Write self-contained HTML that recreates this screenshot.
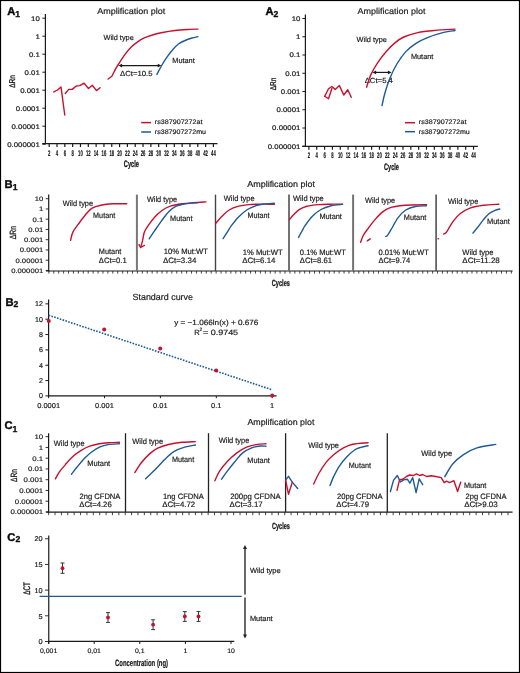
<!DOCTYPE html>
<html><head><meta charset="utf-8"><title>Figure</title>
<style>
html,body{margin:0;padding:0;background:#fff;}
body{width:520px;height:673px;overflow:hidden;}
svg{display:block;will-change:transform;}
text{font-family:"Liberation Sans",sans-serif;text-rendering:geometricPrecision;}
</style></head>
<body>
<svg width="520" height="673" viewBox="0 0 520 673">
<rect x="0.5" y="0.5" width="519" height="672" fill="none" stroke="#000" stroke-width="1.2"/>
<g fill="#1a1a1a" stroke="#1a1a1a" stroke-width="0.18">
<text transform="translate(7.3 14.8)" font-size="11.2" font-weight="bold" fill="#000" stroke-width="0.45">A</text>
<text transform="translate(15.3 16.9)" font-size="8.6" font-weight="bold" fill="#000" stroke-width="0.35">1</text>
<text transform="translate(39.8 20.6) scale(1.17 1)" font-size="6.7" text-anchor="end" stroke-width="0.2">10</text>
<text transform="translate(39.8 38.6) scale(1.17 1)" font-size="6.7" text-anchor="end" stroke-width="0.2">1</text>
<text transform="translate(39.8 56.6) scale(1.17 1)" font-size="6.7" text-anchor="end" stroke-width="0.2">0.1</text>
<text transform="translate(39.8 74.6) scale(1.17 1)" font-size="6.7" text-anchor="end" stroke-width="0.2">0.01</text>
<text transform="translate(39.8 92.6) scale(1.17 1)" font-size="6.7" text-anchor="end" stroke-width="0.2">0.001</text>
<text transform="translate(39.8 110.6) scale(1.17 1)" font-size="6.7" text-anchor="end" stroke-width="0.2">0.0001</text>
<text transform="translate(39.8 128.6) scale(1.17 1)" font-size="6.7" text-anchor="end" stroke-width="0.2">0.00001</text>
<text transform="translate(39.8 146.6) scale(1.17 1)" font-size="6.7" text-anchor="end" stroke-width="0.2">0.000001</text>
<text transform="translate(49.2 155.6) scale(0.52 1)" font-size="8.2" text-anchor="middle" font-weight="bold" stroke-width="0.2">2</text>
<text transform="translate(57.02 155.6) scale(0.52 1)" font-size="8.2" text-anchor="middle" font-weight="bold" stroke-width="0.2">4</text>
<text transform="translate(64.84 155.6) scale(0.52 1)" font-size="8.2" text-anchor="middle" font-weight="bold" stroke-width="0.2">6</text>
<text transform="translate(72.66 155.6) scale(0.52 1)" font-size="8.2" text-anchor="middle" font-weight="bold" stroke-width="0.2">8</text>
<text transform="translate(80.48 155.6) scale(0.52 1)" font-size="8.2" text-anchor="middle" font-weight="bold" stroke-width="0.2">10</text>
<text transform="translate(88.3 155.6) scale(0.52 1)" font-size="8.2" text-anchor="middle" font-weight="bold" stroke-width="0.2">12</text>
<text transform="translate(96.12 155.6) scale(0.52 1)" font-size="8.2" text-anchor="middle" font-weight="bold" stroke-width="0.2">14</text>
<text transform="translate(103.94 155.6) scale(0.52 1)" font-size="8.2" text-anchor="middle" font-weight="bold" stroke-width="0.2">16</text>
<text transform="translate(111.76 155.6) scale(0.52 1)" font-size="8.2" text-anchor="middle" font-weight="bold" stroke-width="0.2">18</text>
<text transform="translate(119.58 155.6) scale(0.52 1)" font-size="8.2" text-anchor="middle" font-weight="bold" stroke-width="0.2">20</text>
<text transform="translate(127.4 155.6) scale(0.52 1)" font-size="8.2" text-anchor="middle" font-weight="bold" stroke-width="0.2">22</text>
<text transform="translate(135.22 155.6) scale(0.52 1)" font-size="8.2" text-anchor="middle" font-weight="bold" stroke-width="0.2">24</text>
<text transform="translate(143.04 155.6) scale(0.52 1)" font-size="8.2" text-anchor="middle" font-weight="bold" stroke-width="0.2">26</text>
<text transform="translate(150.86 155.6) scale(0.52 1)" font-size="8.2" text-anchor="middle" font-weight="bold" stroke-width="0.2">28</text>
<text transform="translate(158.68 155.6) scale(0.52 1)" font-size="8.2" text-anchor="middle" font-weight="bold" stroke-width="0.2">30</text>
<text transform="translate(166.5 155.6) scale(0.52 1)" font-size="8.2" text-anchor="middle" font-weight="bold" stroke-width="0.2">32</text>
<text transform="translate(174.32 155.6) scale(0.52 1)" font-size="8.2" text-anchor="middle" font-weight="bold" stroke-width="0.2">34</text>
<text transform="translate(182.14 155.6) scale(0.52 1)" font-size="8.2" text-anchor="middle" font-weight="bold" stroke-width="0.2">36</text>
<text transform="translate(189.96 155.6) scale(0.52 1)" font-size="8.2" text-anchor="middle" font-weight="bold" stroke-width="0.2">38</text>
<text transform="translate(197.78 155.6) scale(0.52 1)" font-size="8.2" text-anchor="middle" font-weight="bold" stroke-width="0.2">40</text>
<text transform="translate(205.6 155.6) scale(0.52 1)" font-size="8.2" text-anchor="middle" font-weight="bold" stroke-width="0.2">42</text>
<text transform="translate(213.42 155.6) scale(0.52 1)" font-size="8.2" text-anchor="middle" font-weight="bold" stroke-width="0.2">44</text>
<text transform="translate(131.3 13.5)" font-size="8.5" text-anchor="middle" textLength="68" lengthAdjust="spacingAndGlyphs">Amplification plot</text>
<text transform="translate(15.3 81.5) rotate(-90) scale(0.78 1)" font-size="8.4" text-anchor="middle" stroke-width="0.3">&#916;Rn</text>
<text transform="translate(123.8 167) scale(0.6 1)" font-size="9.3" font-weight="bold" stroke-width="0.3" textLength="25.33" lengthAdjust="spacingAndGlyphs">Cycle</text>
<text transform="translate(103.5 39.8)" font-size="7.4" textLength="30.3" lengthAdjust="spacingAndGlyphs">Wild type</text>
<text transform="translate(172.3 63.2)" font-size="7.4" textLength="22.4" lengthAdjust="spacingAndGlyphs">Mutant</text>
<text transform="translate(120 76.3)" font-size="7.4" textLength="32.5" lengthAdjust="spacingAndGlyphs">&#916;Ct=10.5</text>
<text transform="translate(154.8 124.2)" font-size="6.6" textLength="47.7" lengthAdjust="spacingAndGlyphs">rs387907272at</text>
<text transform="translate(154.8 134)" font-size="6.6" textLength="51.2" lengthAdjust="spacingAndGlyphs">rs387907272mu</text>
<text transform="translate(265.5 15)" font-size="11.2" font-weight="bold" fill="#000" stroke-width="0.45">A</text>
<text transform="translate(273.4 17)" font-size="8.6" font-weight="bold" fill="#000" stroke-width="0.35">2</text>
<text transform="translate(300.4 20.9) scale(1.17 1)" font-size="6.7" text-anchor="end" stroke-width="0.2">10</text>
<text transform="translate(300.4 39.15) scale(1.17 1)" font-size="6.7" text-anchor="end" stroke-width="0.2">1</text>
<text transform="translate(300.4 57.4) scale(1.17 1)" font-size="6.7" text-anchor="end" stroke-width="0.2">0.1</text>
<text transform="translate(300.4 75.65) scale(1.17 1)" font-size="6.7" text-anchor="end" stroke-width="0.2">0.01</text>
<text transform="translate(300.4 93.9) scale(1.17 1)" font-size="6.7" text-anchor="end" stroke-width="0.2">0.001</text>
<text transform="translate(300.4 112.15) scale(1.17 1)" font-size="6.7" text-anchor="end" stroke-width="0.2">0.0001</text>
<text transform="translate(300.4 130.4) scale(1.17 1)" font-size="6.7" text-anchor="end" stroke-width="0.2">0.00001</text>
<text transform="translate(300.4 148.65) scale(1.17 1)" font-size="6.7" text-anchor="end" stroke-width="0.2">0.000001</text>
<text transform="translate(308.9 158.2) scale(0.52 1)" font-size="8.2" text-anchor="middle" font-weight="bold" stroke-width="0.2">2</text>
<text transform="translate(316.74 158.2) scale(0.52 1)" font-size="8.2" text-anchor="middle" font-weight="bold" stroke-width="0.2">4</text>
<text transform="translate(324.58 158.2) scale(0.52 1)" font-size="8.2" text-anchor="middle" font-weight="bold" stroke-width="0.2">6</text>
<text transform="translate(332.42 158.2) scale(0.52 1)" font-size="8.2" text-anchor="middle" font-weight="bold" stroke-width="0.2">8</text>
<text transform="translate(340.26 158.2) scale(0.52 1)" font-size="8.2" text-anchor="middle" font-weight="bold" stroke-width="0.2">10</text>
<text transform="translate(348.1 158.2) scale(0.52 1)" font-size="8.2" text-anchor="middle" font-weight="bold" stroke-width="0.2">12</text>
<text transform="translate(355.94 158.2) scale(0.52 1)" font-size="8.2" text-anchor="middle" font-weight="bold" stroke-width="0.2">14</text>
<text transform="translate(363.78 158.2) scale(0.52 1)" font-size="8.2" text-anchor="middle" font-weight="bold" stroke-width="0.2">16</text>
<text transform="translate(371.62 158.2) scale(0.52 1)" font-size="8.2" text-anchor="middle" font-weight="bold" stroke-width="0.2">18</text>
<text transform="translate(379.46 158.2) scale(0.52 1)" font-size="8.2" text-anchor="middle" font-weight="bold" stroke-width="0.2">20</text>
<text transform="translate(387.3 158.2) scale(0.52 1)" font-size="8.2" text-anchor="middle" font-weight="bold" stroke-width="0.2">22</text>
<text transform="translate(395.14 158.2) scale(0.52 1)" font-size="8.2" text-anchor="middle" font-weight="bold" stroke-width="0.2">24</text>
<text transform="translate(402.98 158.2) scale(0.52 1)" font-size="8.2" text-anchor="middle" font-weight="bold" stroke-width="0.2">26</text>
<text transform="translate(410.82 158.2) scale(0.52 1)" font-size="8.2" text-anchor="middle" font-weight="bold" stroke-width="0.2">28</text>
<text transform="translate(418.66 158.2) scale(0.52 1)" font-size="8.2" text-anchor="middle" font-weight="bold" stroke-width="0.2">30</text>
<text transform="translate(426.5 158.2) scale(0.52 1)" font-size="8.2" text-anchor="middle" font-weight="bold" stroke-width="0.2">32</text>
<text transform="translate(434.34 158.2) scale(0.52 1)" font-size="8.2" text-anchor="middle" font-weight="bold" stroke-width="0.2">34</text>
<text transform="translate(442.18 158.2) scale(0.52 1)" font-size="8.2" text-anchor="middle" font-weight="bold" stroke-width="0.2">36</text>
<text transform="translate(450.02 158.2) scale(0.52 1)" font-size="8.2" text-anchor="middle" font-weight="bold" stroke-width="0.2">38</text>
<text transform="translate(457.86 158.2) scale(0.52 1)" font-size="8.2" text-anchor="middle" font-weight="bold" stroke-width="0.2">40</text>
<text transform="translate(465.7 158.2) scale(0.52 1)" font-size="8.2" text-anchor="middle" font-weight="bold" stroke-width="0.2">42</text>
<text transform="translate(473.54 158.2) scale(0.52 1)" font-size="8.2" text-anchor="middle" font-weight="bold" stroke-width="0.2">44</text>
<text transform="translate(391.6 13.5)" font-size="8.5" text-anchor="middle" textLength="68" lengthAdjust="spacingAndGlyphs">Amplification plot</text>
<text transform="translate(275.5 84) rotate(-90) scale(0.78 1)" font-size="8.4" text-anchor="middle" stroke-width="0.3">&#916;Rn</text>
<text transform="translate(384.1 169.6) scale(0.6 1)" font-size="9.3" font-weight="bold" stroke-width="0.3" textLength="24.67" lengthAdjust="spacingAndGlyphs">Cycle</text>
<text transform="translate(356.6 42.2)" font-size="7.4" textLength="30.3" lengthAdjust="spacingAndGlyphs">Wild type</text>
<text transform="translate(410.9 58.9)" font-size="7.4" textLength="22.5" lengthAdjust="spacingAndGlyphs">Mutant</text>
<text transform="translate(364.7 83)" font-size="7.4" textLength="28.2" lengthAdjust="spacingAndGlyphs">&#916;Ct=5.4</text>
<text transform="translate(418.8 124.2)" font-size="6.6" textLength="47.7" lengthAdjust="spacingAndGlyphs">rs387907272at</text>
<text transform="translate(418.8 133.9)" font-size="6.6" textLength="51" lengthAdjust="spacingAndGlyphs">rs387907272mu</text>
<text transform="translate(4.4 187.7)" font-size="11.2" font-weight="bold" fill="#000" stroke-width="0.45">B</text>
<text transform="translate(12.7 189.7)" font-size="8.6" font-weight="bold" fill="#000" stroke-width="0.35">1</text>
<text transform="translate(247.2 186.6)" font-size="8.6" textLength="67.8" lengthAdjust="spacingAndGlyphs">Amplification plot</text>
<text transform="translate(43.2 201) scale(1.18 1)" font-size="6.5" text-anchor="end" stroke-width="0.16">10</text>
<text transform="translate(43.2 211.25) scale(1.18 1)" font-size="6.5" text-anchor="end" stroke-width="0.16">1</text>
<text transform="translate(43.2 221.5) scale(1.18 1)" font-size="6.5" text-anchor="end" stroke-width="0.16">0.1</text>
<text transform="translate(43.2 231.75) scale(1.18 1)" font-size="6.5" text-anchor="end" stroke-width="0.16">0.01</text>
<text transform="translate(43.2 242) scale(1.18 1)" font-size="6.5" text-anchor="end" stroke-width="0.16">0.001</text>
<text transform="translate(43.2 252.25) scale(1.18 1)" font-size="6.5" text-anchor="end" stroke-width="0.16">0.0001</text>
<text transform="translate(43.2 262.5) scale(1.18 1)" font-size="6.5" text-anchor="end" stroke-width="0.16">0.00001</text>
<text transform="translate(43.2 272.75) scale(1.18 1)" font-size="6.5" text-anchor="end" stroke-width="0.16">0.000001</text>
<text transform="translate(16 232.6) rotate(-90) scale(0.75 1)" font-size="9" text-anchor="middle" stroke-width="0.3">&#916;Rn</text>
<text transform="translate(271.8 286.1) scale(0.6 1)" font-size="9" font-weight="bold" stroke-width="0.3" textLength="30.17" lengthAdjust="spacingAndGlyphs">Cycles</text>
<text transform="translate(62.7 205.8)" font-size="7.8" textLength="30.4" lengthAdjust="spacingAndGlyphs">Wild type</text>
<text transform="translate(93.1 217.7)" font-size="7.8" textLength="22.1" lengthAdjust="spacingAndGlyphs">Mutant</text>
<text transform="translate(98.8 253.7)" font-size="7.8" textLength="22.5" lengthAdjust="spacingAndGlyphs">Mutant</text>
<text transform="translate(98.8 262.9)" font-size="7.8" textLength="27.9" lengthAdjust="spacingAndGlyphs">&#916;Ct=0.1</text>
<text transform="translate(146.9 201.9)" font-size="7.8" textLength="30.2" lengthAdjust="spacingAndGlyphs">Wild type</text>
<text transform="translate(170 221.2)" font-size="7.8" textLength="22.5" lengthAdjust="spacingAndGlyphs">Mutant</text>
<text transform="translate(163.7 253.7)" font-size="7.8" textLength="44.2" lengthAdjust="spacingAndGlyphs">10% Mut:WT</text>
<text transform="translate(163 262.9)" font-size="7.8" textLength="33.3" lengthAdjust="spacingAndGlyphs">&#916;Ct=3.34</text>
<text transform="translate(223.8 201.3)" font-size="7.8" textLength="30.8" lengthAdjust="spacingAndGlyphs">Wild type</text>
<text transform="translate(247.5 218.1)" font-size="7.8" textLength="22.1" lengthAdjust="spacingAndGlyphs">Mutant</text>
<text transform="translate(242.7 254.6)" font-size="7.8" textLength="40" lengthAdjust="spacingAndGlyphs">1% Mut:WT</text>
<text transform="translate(242.3 263)" font-size="7.8" textLength="33.1" lengthAdjust="spacingAndGlyphs">&#916;Ct=6.14</text>
<text transform="translate(293 200.8)" font-size="7.8" textLength="30.8" lengthAdjust="spacingAndGlyphs">Wild type</text>
<text transform="translate(319.4 218.7)" font-size="7.8" textLength="22.5" lengthAdjust="spacingAndGlyphs">Mutant</text>
<text transform="translate(299.8 254.6)" font-size="7.8" textLength="46" lengthAdjust="spacingAndGlyphs">0.1% Mut:WT</text>
<text transform="translate(299.8 263)" font-size="7.8" textLength="32.1" lengthAdjust="spacingAndGlyphs">&#916;Ct=8.61</text>
<text transform="translate(365 203.3)" font-size="7.8" textLength="30.2" lengthAdjust="spacingAndGlyphs">Wild type</text>
<text transform="translate(403.8 220.2)" font-size="7.8" textLength="22.5" lengthAdjust="spacingAndGlyphs">Mutant</text>
<text transform="translate(378.5 254.6)" font-size="7.8" textLength="50.3" lengthAdjust="spacingAndGlyphs">0.01% Mut:WT</text>
<text transform="translate(378.5 263)" font-size="7.8" textLength="31.7" lengthAdjust="spacingAndGlyphs">&#916;Ct=9.74</text>
<text transform="translate(447.9 203.8)" font-size="7.8" textLength="30.4" lengthAdjust="spacingAndGlyphs">Wild type</text>
<text transform="translate(486.9 224)" font-size="7.8" textLength="22.9" lengthAdjust="spacingAndGlyphs">Mutant</text>
<text transform="translate(462.3 254.6)" font-size="7.8" textLength="31.2" lengthAdjust="spacingAndGlyphs">Wild type</text>
<text transform="translate(462.3 263)" font-size="7.8" textLength="37.5" lengthAdjust="spacingAndGlyphs">&#916;Ct=11.28</text>
<text transform="translate(5.5 305.7)" font-size="11.2" font-weight="bold" fill="#000" stroke-width="0.45">B</text>
<text transform="translate(13.4 307.4)" font-size="8.6" font-weight="bold" fill="#000" stroke-width="0.35">2</text>
<text transform="translate(42.9 398.4)" font-size="7.1" text-anchor="end">0</text>
<text transform="translate(42.9 383.06)" font-size="7.1" text-anchor="end">2</text>
<text transform="translate(42.9 367.72)" font-size="7.1" text-anchor="end">4</text>
<text transform="translate(42.9 352.38)" font-size="7.1" text-anchor="end">6</text>
<text transform="translate(42.9 337.04)" font-size="7.1" text-anchor="end">8</text>
<text transform="translate(42.9 321.7)" font-size="7.1" text-anchor="end">10</text>
<text transform="translate(42.9 306.36)" font-size="7.1" text-anchor="end">12</text>
<text transform="translate(48.6 407.9) scale(1.07 1)" font-size="7" text-anchor="middle">0.0001</text>
<text transform="translate(104.5 407.9) scale(1.07 1)" font-size="7" text-anchor="middle">0.001</text>
<text transform="translate(160.4 407.9) scale(1.07 1)" font-size="7" text-anchor="middle">0.01</text>
<text transform="translate(216.3 407.9) scale(1.07 1)" font-size="7" text-anchor="middle">0.1</text>
<text transform="translate(272.2 407.9) scale(1.07 1)" font-size="7" text-anchor="middle">1</text>
<text transform="translate(132.5 299.8)" font-size="9" textLength="60.5" lengthAdjust="spacingAndGlyphs">Standard curve</text>
<text transform="translate(174.2 325.2)" font-size="7.6" textLength="84.2" lengthAdjust="spacingAndGlyphs">y = &#8722;1.066ln(x) + 0.676</text>
<text transform="translate(194.2 334.8)" font-size="7.6">R</text>
<text transform="translate(199.6 331.4)" font-size="4.8">2</text>
<text transform="translate(203 334.8)" font-size="7.6" textLength="35.1" lengthAdjust="spacingAndGlyphs">= 0.9745</text>
<text transform="translate(4.5 429.4)" font-size="11.2" font-weight="bold" fill="#000" stroke-width="0.45">C</text>
<text transform="translate(12.6 431.7)" font-size="8.6" font-weight="bold" fill="#000" stroke-width="0.35">1</text>
<text transform="translate(247.4 425.1)" font-size="8.6" textLength="67" lengthAdjust="spacingAndGlyphs">Amplification plot</text>
<text transform="translate(43.2 439) scale(1.19 1)" font-size="6.6" text-anchor="end" stroke-width="0.16">10</text>
<text transform="translate(43.2 449.75) scale(1.19 1)" font-size="6.6" text-anchor="end" stroke-width="0.16">1</text>
<text transform="translate(43.2 460.5) scale(1.19 1)" font-size="6.6" text-anchor="end" stroke-width="0.16">0.1</text>
<text transform="translate(43.2 471.25) scale(1.19 1)" font-size="6.6" text-anchor="end" stroke-width="0.16">0.01</text>
<text transform="translate(43.2 482) scale(1.19 1)" font-size="6.6" text-anchor="end" stroke-width="0.16">0.001</text>
<text transform="translate(43.2 492.75) scale(1.19 1)" font-size="6.6" text-anchor="end" stroke-width="0.16">0.0001</text>
<text transform="translate(43.2 503.5) scale(1.19 1)" font-size="6.6" text-anchor="end" stroke-width="0.16">0.00001</text>
<text transform="translate(43.2 514.25) scale(1.19 1)" font-size="6.6" text-anchor="end" stroke-width="0.16">0.000001</text>
<text transform="translate(16.8 475.4) rotate(-90) scale(0.74 1)" font-size="9" text-anchor="middle" stroke-width="0.3">&#916;Rn</text>
<text transform="translate(271.9 528.5) scale(0.6 1)" font-size="9" font-weight="bold" stroke-width="0.3" textLength="30" lengthAdjust="spacingAndGlyphs">Cycles</text>
<text transform="translate(53.8 445.8)" font-size="7.8" textLength="30.8" lengthAdjust="spacingAndGlyphs">Wild type</text>
<text transform="translate(87.3 465.8)" font-size="7.8" textLength="22.9" lengthAdjust="spacingAndGlyphs">Mutant</text>
<text transform="translate(79.5 498.5)" font-size="7.8" textLength="40.9" lengthAdjust="spacingAndGlyphs">2ng CFDNA</text>
<text transform="translate(79.3 507.3)" font-size="7.8" textLength="32.4" lengthAdjust="spacingAndGlyphs">&#916;Ct=4.26</text>
<text transform="translate(132.3 444.2)" font-size="7.8" textLength="30.8" lengthAdjust="spacingAndGlyphs">Wild type</text>
<text transform="translate(171.9 461.5)" font-size="7.8" textLength="22.3" lengthAdjust="spacingAndGlyphs">Mutant</text>
<text transform="translate(162.9 498.5)" font-size="7.8" textLength="40.9" lengthAdjust="spacingAndGlyphs">1ng CFDNA</text>
<text transform="translate(162.3 507.3)" font-size="7.8" textLength="32.9" lengthAdjust="spacingAndGlyphs">&#916;Ct=4.72</text>
<text transform="translate(218.7 443.3)" font-size="7.8" textLength="30.7" lengthAdjust="spacingAndGlyphs">Wild type</text>
<text transform="translate(247.3 462.9)" font-size="7.8" textLength="22.5" lengthAdjust="spacingAndGlyphs">Mutant</text>
<text transform="translate(230.2 498.5)" font-size="7.8" textLength="50.6" lengthAdjust="spacingAndGlyphs">200pg CFDNA</text>
<text transform="translate(229.6 507.3)" font-size="7.8" textLength="33.1" lengthAdjust="spacingAndGlyphs">&#916;Ct=3.17</text>
<text transform="translate(308.3 447.5)" font-size="7.8" textLength="30.7" lengthAdjust="spacingAndGlyphs">Wild type</text>
<text transform="translate(348.8 468.3)" font-size="7.8" textLength="22.2" lengthAdjust="spacingAndGlyphs">Mutant</text>
<text transform="translate(336.9 498.5)" font-size="7.8" textLength="45.6" lengthAdjust="spacingAndGlyphs">20pg CFDNA</text>
<text transform="translate(336.3 507.3)" font-size="7.8" textLength="32.7" lengthAdjust="spacingAndGlyphs">&#916;Ct=4.79</text>
<text transform="translate(421.2 456)" font-size="7.8" textLength="31" lengthAdjust="spacingAndGlyphs">Wild type</text>
<text transform="translate(464 488.3)" font-size="7.8" textLength="22.4" lengthAdjust="spacingAndGlyphs">Mutant</text>
<text transform="translate(465.6 499)" font-size="7.8" textLength="40.9" lengthAdjust="spacingAndGlyphs">2pg CFDNA</text>
<text transform="translate(464.3 507.1)" font-size="7.8" textLength="33.4" lengthAdjust="spacingAndGlyphs">&#916;Ct&gt;9.03</text>
<text transform="translate(7.2 540.6)" font-size="11.2" font-weight="bold" fill="#000" stroke-width="0.45">C</text>
<text transform="translate(15.4 542.3)" font-size="8.6" font-weight="bold" fill="#000" stroke-width="0.35">2</text>
<text transform="translate(42.6 644.2) scale(1.05 1)" font-size="7" text-anchor="end">0</text>
<text transform="translate(42.6 618.51) scale(1.05 1)" font-size="7" text-anchor="end">5</text>
<text transform="translate(42.6 592.83) scale(1.05 1)" font-size="7" text-anchor="end">10</text>
<text transform="translate(42.6 567.14) scale(1.05 1)" font-size="7" text-anchor="end">15</text>
<text transform="translate(42.6 541.45) scale(1.05 1)" font-size="7" text-anchor="end">20</text>
<text transform="translate(48.6 652.9) scale(1.05 1)" font-size="6.6" text-anchor="middle">0,001</text>
<text transform="translate(94.2 652.9) scale(1.05 1)" font-size="6.6" text-anchor="middle">0,01</text>
<text transform="translate(139.8 652.9) scale(1.05 1)" font-size="6.6" text-anchor="middle">0,1</text>
<text transform="translate(185.4 652.9) scale(1.05 1)" font-size="6.6" text-anchor="middle">1</text>
<text transform="translate(231 652.9) scale(1.05 1)" font-size="6.6" text-anchor="middle">10</text>
<text transform="translate(249.9 572.8)" font-size="7.4" textLength="30.7" lengthAdjust="spacingAndGlyphs">Wild type</text>
<text transform="translate(249.9 620.5)" font-size="7.4" textLength="22.7" lengthAdjust="spacingAndGlyphs">Mutant</text>
<text transform="translate(115 665.6) scale(0.6 1)" font-size="9.2" font-weight="bold" stroke-width="0.2" textLength="88.5" lengthAdjust="spacingAndGlyphs">Concentration (ng)</text>
<text transform="translate(30 588.4) rotate(-90) scale(0.66 1)" font-size="9.5" text-anchor="middle" stroke-width="0.35">&#916;CT</text>
</g>
<line x1="45.4" y1="14" x2="45.4" y2="144.2" stroke="#1a1a1a" stroke-width="1.2"/>
<line x1="42.4" y1="18.2" x2="45.4" y2="18.2" stroke="#1a1a1a" stroke-width="1"/>
<line x1="42.4" y1="36.2" x2="45.4" y2="36.2" stroke="#1a1a1a" stroke-width="1"/>
<line x1="42.4" y1="54.2" x2="45.4" y2="54.2" stroke="#1a1a1a" stroke-width="1"/>
<line x1="42.4" y1="72.2" x2="45.4" y2="72.2" stroke="#1a1a1a" stroke-width="1"/>
<line x1="42.4" y1="90.2" x2="45.4" y2="90.2" stroke="#1a1a1a" stroke-width="1"/>
<line x1="42.4" y1="108.2" x2="45.4" y2="108.2" stroke="#1a1a1a" stroke-width="1"/>
<line x1="42.4" y1="126.2" x2="45.4" y2="126.2" stroke="#1a1a1a" stroke-width="1"/>
<line x1="42.4" y1="144.2" x2="45.4" y2="144.2" stroke="#1a1a1a" stroke-width="1"/>
<line x1="42.2" y1="143.7" x2="217.5" y2="143.7" stroke="#1a1a1a" stroke-width="1.3"/>
<line x1="49.2" y1="143.7" x2="49.2" y2="147.1" stroke="#1a1a1a" stroke-width="1.2"/>
<line x1="57.02" y1="143.7" x2="57.02" y2="147.1" stroke="#1a1a1a" stroke-width="1.2"/>
<line x1="64.84" y1="143.7" x2="64.84" y2="147.1" stroke="#1a1a1a" stroke-width="1.2"/>
<line x1="72.66" y1="143.7" x2="72.66" y2="147.1" stroke="#1a1a1a" stroke-width="1.2"/>
<line x1="80.48" y1="143.7" x2="80.48" y2="147.1" stroke="#1a1a1a" stroke-width="1.2"/>
<line x1="88.3" y1="143.7" x2="88.3" y2="147.1" stroke="#1a1a1a" stroke-width="1.2"/>
<line x1="96.12" y1="143.7" x2="96.12" y2="147.1" stroke="#1a1a1a" stroke-width="1.2"/>
<line x1="103.94" y1="143.7" x2="103.94" y2="147.1" stroke="#1a1a1a" stroke-width="1.2"/>
<line x1="111.76" y1="143.7" x2="111.76" y2="147.1" stroke="#1a1a1a" stroke-width="1.2"/>
<line x1="119.58" y1="143.7" x2="119.58" y2="147.1" stroke="#1a1a1a" stroke-width="1.2"/>
<line x1="127.4" y1="143.7" x2="127.4" y2="147.1" stroke="#1a1a1a" stroke-width="1.2"/>
<line x1="135.22" y1="143.7" x2="135.22" y2="147.1" stroke="#1a1a1a" stroke-width="1.2"/>
<line x1="143.04" y1="143.7" x2="143.04" y2="147.1" stroke="#1a1a1a" stroke-width="1.2"/>
<line x1="150.86" y1="143.7" x2="150.86" y2="147.1" stroke="#1a1a1a" stroke-width="1.2"/>
<line x1="158.68" y1="143.7" x2="158.68" y2="147.1" stroke="#1a1a1a" stroke-width="1.2"/>
<line x1="166.5" y1="143.7" x2="166.5" y2="147.1" stroke="#1a1a1a" stroke-width="1.2"/>
<line x1="174.32" y1="143.7" x2="174.32" y2="147.1" stroke="#1a1a1a" stroke-width="1.2"/>
<line x1="182.14" y1="143.7" x2="182.14" y2="147.1" stroke="#1a1a1a" stroke-width="1.2"/>
<line x1="189.96" y1="143.7" x2="189.96" y2="147.1" stroke="#1a1a1a" stroke-width="1.2"/>
<line x1="197.78" y1="143.7" x2="197.78" y2="147.1" stroke="#1a1a1a" stroke-width="1.2"/>
<line x1="205.6" y1="143.7" x2="205.6" y2="147.1" stroke="#1a1a1a" stroke-width="1.2"/>
<line x1="213.42" y1="143.7" x2="213.42" y2="147.1" stroke="#1a1a1a" stroke-width="1.2"/>
<polyline points="53.75,91.9 57.5,90 61,86.9 64.75,115" fill="none" stroke="#c8102e" stroke-width="1.4" stroke-linejoin="round" stroke-linecap="round"/>
<polyline points="65.25,93.5 68.75,89.4 72.25,89.4 76.25,86 79.75,85.6 84,83.1 88.5,88.5 92.25,85.25 96.5,90.6 100,87.75" fill="none" stroke="#c8102e" stroke-width="1.4" stroke-linejoin="round" stroke-linecap="round"/>
<polyline points="108.1,79 111.9,76.25 115,70" fill="none" stroke="#c8102e" stroke-width="1.4" stroke-linejoin="round" stroke-linecap="round"/>
<path d="M115,70 C115.62,68.96 117.08,66.35 118.75,63.75 C120.42,61.15 122.92,57.21 125,54.4 C127.08,51.59 129.17,48.98 131.25,46.9 C133.33,44.82 135.42,43.37 137.5,41.9 C139.58,40.43 141.25,39.25 143.75,38.1 C146.25,36.95 149.38,35.93 152.5,35 C155.62,34.07 158.75,33.25 162.5,32.5 C166.25,31.75 170.83,31 175,30.5 C179.17,30 183.68,29.73 187.5,29.5 C191.32,29.27 196.17,29.17 197.9,29.1" fill="none" stroke="#c8102e" stroke-width="1.4" stroke-linecap="round" stroke-linejoin="round"/>
<path d="M156.9,74.4 C157.62,73.04 159.69,68.97 161.25,66.25 C162.81,63.53 164.38,60.81 166.25,58.1 C168.12,55.39 170.42,52.39 172.5,50 C174.58,47.61 176.46,45.42 178.75,43.75 C181.04,42.08 184.04,40.96 186.25,40 C188.46,39.04 190.06,38.57 192,38 C193.94,37.43 196.92,36.83 197.9,36.6" fill="none" stroke="#1d5a96" stroke-width="1.4" stroke-linecap="round" stroke-linejoin="round"/>
<line x1="120.66" y1="65.6" x2="159.14" y2="65.6" stroke="#1a1a1a" stroke-width="1.2"/>
<path d="M118.5,65.6 L122.1,63.7 L122.1,67.5 Z" fill="#1a1a1a"/>
<path d="M161.3,65.6 L157.7,63.7 L157.7,67.5 Z" fill="#1a1a1a"/>
<line x1="141.2" y1="122.6" x2="151" y2="122.6" stroke="#c8102e" stroke-width="1.5"/>
<line x1="141.2" y1="132" x2="151" y2="132" stroke="#1d5a96" stroke-width="1.5"/>
<line x1="305.4" y1="14.5" x2="305.4" y2="146.8" stroke="#1a1a1a" stroke-width="1.2"/>
<line x1="302.4" y1="18.5" x2="305.4" y2="18.5" stroke="#1a1a1a" stroke-width="1"/>
<line x1="302.4" y1="36.75" x2="305.4" y2="36.75" stroke="#1a1a1a" stroke-width="1"/>
<line x1="302.4" y1="55" x2="305.4" y2="55" stroke="#1a1a1a" stroke-width="1"/>
<line x1="302.4" y1="73.25" x2="305.4" y2="73.25" stroke="#1a1a1a" stroke-width="1"/>
<line x1="302.4" y1="91.5" x2="305.4" y2="91.5" stroke="#1a1a1a" stroke-width="1"/>
<line x1="302.4" y1="109.75" x2="305.4" y2="109.75" stroke="#1a1a1a" stroke-width="1"/>
<line x1="302.4" y1="128" x2="305.4" y2="128" stroke="#1a1a1a" stroke-width="1"/>
<line x1="302.4" y1="146.25" x2="305.4" y2="146.25" stroke="#1a1a1a" stroke-width="1"/>
<line x1="302.2" y1="146.3" x2="477.8" y2="146.3" stroke="#1a1a1a" stroke-width="1.3"/>
<line x1="308.9" y1="146.3" x2="308.9" y2="149.7" stroke="#1a1a1a" stroke-width="1.2"/>
<line x1="316.74" y1="146.3" x2="316.74" y2="149.7" stroke="#1a1a1a" stroke-width="1.2"/>
<line x1="324.58" y1="146.3" x2="324.58" y2="149.7" stroke="#1a1a1a" stroke-width="1.2"/>
<line x1="332.42" y1="146.3" x2="332.42" y2="149.7" stroke="#1a1a1a" stroke-width="1.2"/>
<line x1="340.26" y1="146.3" x2="340.26" y2="149.7" stroke="#1a1a1a" stroke-width="1.2"/>
<line x1="348.1" y1="146.3" x2="348.1" y2="149.7" stroke="#1a1a1a" stroke-width="1.2"/>
<line x1="355.94" y1="146.3" x2="355.94" y2="149.7" stroke="#1a1a1a" stroke-width="1.2"/>
<line x1="363.78" y1="146.3" x2="363.78" y2="149.7" stroke="#1a1a1a" stroke-width="1.2"/>
<line x1="371.62" y1="146.3" x2="371.62" y2="149.7" stroke="#1a1a1a" stroke-width="1.2"/>
<line x1="379.46" y1="146.3" x2="379.46" y2="149.7" stroke="#1a1a1a" stroke-width="1.2"/>
<line x1="387.3" y1="146.3" x2="387.3" y2="149.7" stroke="#1a1a1a" stroke-width="1.2"/>
<line x1="395.14" y1="146.3" x2="395.14" y2="149.7" stroke="#1a1a1a" stroke-width="1.2"/>
<line x1="402.98" y1="146.3" x2="402.98" y2="149.7" stroke="#1a1a1a" stroke-width="1.2"/>
<line x1="410.82" y1="146.3" x2="410.82" y2="149.7" stroke="#1a1a1a" stroke-width="1.2"/>
<line x1="418.66" y1="146.3" x2="418.66" y2="149.7" stroke="#1a1a1a" stroke-width="1.2"/>
<line x1="426.5" y1="146.3" x2="426.5" y2="149.7" stroke="#1a1a1a" stroke-width="1.2"/>
<line x1="434.34" y1="146.3" x2="434.34" y2="149.7" stroke="#1a1a1a" stroke-width="1.2"/>
<line x1="442.18" y1="146.3" x2="442.18" y2="149.7" stroke="#1a1a1a" stroke-width="1.2"/>
<line x1="450.02" y1="146.3" x2="450.02" y2="149.7" stroke="#1a1a1a" stroke-width="1.2"/>
<line x1="457.86" y1="146.3" x2="457.86" y2="149.7" stroke="#1a1a1a" stroke-width="1.2"/>
<line x1="465.7" y1="146.3" x2="465.7" y2="149.7" stroke="#1a1a1a" stroke-width="1.2"/>
<line x1="473.54" y1="146.3" x2="473.54" y2="149.7" stroke="#1a1a1a" stroke-width="1.2"/>
<polyline points="324.75,96.25 328.5,88.75 331.9,86.5 335.25,89.4 339.4,85.6 343.75,95 347.75,89.75 351.25,97.25" fill="none" stroke="#c8102e" stroke-width="1.4" stroke-linejoin="round" stroke-linecap="round"/>
<polyline points="324.75,96.25 328.5,98.75 331.9,88.5" fill="none" stroke="#c8102e" stroke-width="1.4" stroke-linejoin="round" stroke-linecap="round"/>
<path d="M366.6,87.2 C367.33,85.07 369.12,78.55 371,74.4 C372.88,70.25 375.32,66.17 377.9,62.3 C380.48,58.43 383.62,54.48 386.5,51.2 C389.38,47.92 392.32,44.97 395.2,42.6 C398.08,40.23 400.05,38.67 403.8,37 C407.55,35.33 412.5,33.7 417.7,32.6 C422.9,31.5 428.78,30.98 435,30.4 C441.22,29.82 451.67,29.32 455,29.1" fill="none" stroke="#c8102e" stroke-width="1.4" stroke-linecap="round" stroke-linejoin="round"/>
<path d="M382,105.6 C382.47,103.58 383.47,98.12 384.8,93.5 C386.13,88.88 387.98,82.82 390,77.9 C392.02,72.98 394.3,68.33 396.9,64 C399.5,59.67 402.42,55.35 405.6,51.9 C408.78,48.45 412.25,45.72 416,43.3 C419.75,40.88 423.78,39.13 428.1,37.4 C432.42,35.67 437.42,34.05 441.9,32.9 C446.38,31.75 452.82,30.9 455,30.5" fill="none" stroke="#1d5a96" stroke-width="1.4" stroke-linecap="round" stroke-linejoin="round"/>
<line x1="374.66" y1="72.4" x2="389.34" y2="72.4" stroke="#1a1a1a" stroke-width="1.2"/>
<path d="M372.5,72.4 L376.1,70.5 L376.1,74.3 Z" fill="#1a1a1a"/>
<path d="M391.5,72.4 L387.9,70.5 L387.9,74.3 Z" fill="#1a1a1a"/>
<line x1="405" y1="122.7" x2="415" y2="122.7" stroke="#c8102e" stroke-width="1.5"/>
<line x1="405" y1="131.7" x2="415" y2="131.7" stroke="#1d5a96" stroke-width="1.5"/>
<line x1="48.7" y1="194.6" x2="48.7" y2="271.5" stroke="#1a1a1a" stroke-width="1.2"/>
<line x1="45.7" y1="198.7" x2="48.7" y2="198.7" stroke="#1a1a1a" stroke-width="0.9"/>
<line x1="45.7" y1="208.95" x2="48.7" y2="208.95" stroke="#1a1a1a" stroke-width="0.9"/>
<line x1="45.7" y1="219.2" x2="48.7" y2="219.2" stroke="#1a1a1a" stroke-width="0.9"/>
<line x1="45.7" y1="229.45" x2="48.7" y2="229.45" stroke="#1a1a1a" stroke-width="0.9"/>
<line x1="45.7" y1="239.7" x2="48.7" y2="239.7" stroke="#1a1a1a" stroke-width="0.9"/>
<line x1="45.7" y1="249.95" x2="48.7" y2="249.95" stroke="#1a1a1a" stroke-width="0.9"/>
<line x1="45.7" y1="260.2" x2="48.7" y2="260.2" stroke="#1a1a1a" stroke-width="0.9"/>
<line x1="45.7" y1="270.45" x2="48.7" y2="270.45" stroke="#1a1a1a" stroke-width="0.9"/>
<line x1="46" y1="271" x2="512.7" y2="271" stroke="#1a1a1a" stroke-width="1.2"/>
<line x1="48.85" y1="271" x2="48.85" y2="273.6" stroke="#1a1a1a" stroke-width="0.8"/>
<line x1="53.77" y1="271" x2="53.77" y2="273.6" stroke="#1a1a1a" stroke-width="0.8"/>
<line x1="58.69" y1="271" x2="58.69" y2="273.6" stroke="#1a1a1a" stroke-width="0.8"/>
<line x1="63.61" y1="271" x2="63.61" y2="273.6" stroke="#1a1a1a" stroke-width="0.8"/>
<line x1="68.53" y1="271" x2="68.53" y2="273.6" stroke="#1a1a1a" stroke-width="0.8"/>
<line x1="73.45" y1="271" x2="73.45" y2="273.6" stroke="#1a1a1a" stroke-width="0.8"/>
<line x1="78.37" y1="271" x2="78.37" y2="273.6" stroke="#1a1a1a" stroke-width="0.8"/>
<line x1="83.29" y1="271" x2="83.29" y2="273.6" stroke="#1a1a1a" stroke-width="0.8"/>
<line x1="88.21" y1="271" x2="88.21" y2="273.6" stroke="#1a1a1a" stroke-width="0.8"/>
<line x1="93.13" y1="271" x2="93.13" y2="273.6" stroke="#1a1a1a" stroke-width="0.8"/>
<line x1="98.05" y1="271" x2="98.05" y2="273.6" stroke="#1a1a1a" stroke-width="0.8"/>
<line x1="102.97" y1="271" x2="102.97" y2="273.6" stroke="#1a1a1a" stroke-width="0.8"/>
<line x1="107.89" y1="271" x2="107.89" y2="273.6" stroke="#1a1a1a" stroke-width="0.8"/>
<line x1="112.81" y1="271" x2="112.81" y2="273.6" stroke="#1a1a1a" stroke-width="0.8"/>
<line x1="117.73" y1="271" x2="117.73" y2="273.6" stroke="#1a1a1a" stroke-width="0.8"/>
<line x1="122.65" y1="271" x2="122.65" y2="273.6" stroke="#1a1a1a" stroke-width="0.8"/>
<line x1="127.57" y1="271" x2="127.57" y2="273.6" stroke="#1a1a1a" stroke-width="0.8"/>
<line x1="132.49" y1="271" x2="132.49" y2="273.6" stroke="#1a1a1a" stroke-width="0.8"/>
<line x1="137.41" y1="271" x2="137.41" y2="273.6" stroke="#1a1a1a" stroke-width="0.8"/>
<line x1="142.33" y1="271" x2="142.33" y2="273.6" stroke="#1a1a1a" stroke-width="0.8"/>
<line x1="147.25" y1="271" x2="147.25" y2="273.6" stroke="#1a1a1a" stroke-width="0.8"/>
<line x1="152.17" y1="271" x2="152.17" y2="273.6" stroke="#1a1a1a" stroke-width="0.8"/>
<line x1="157.09" y1="271" x2="157.09" y2="273.6" stroke="#1a1a1a" stroke-width="0.8"/>
<line x1="162.01" y1="271" x2="162.01" y2="273.6" stroke="#1a1a1a" stroke-width="0.8"/>
<line x1="166.93" y1="271" x2="166.93" y2="273.6" stroke="#1a1a1a" stroke-width="0.8"/>
<line x1="171.85" y1="271" x2="171.85" y2="273.6" stroke="#1a1a1a" stroke-width="0.8"/>
<line x1="176.77" y1="271" x2="176.77" y2="273.6" stroke="#1a1a1a" stroke-width="0.8"/>
<line x1="181.69" y1="271" x2="181.69" y2="273.6" stroke="#1a1a1a" stroke-width="0.8"/>
<line x1="186.61" y1="271" x2="186.61" y2="273.6" stroke="#1a1a1a" stroke-width="0.8"/>
<line x1="191.53" y1="271" x2="191.53" y2="273.6" stroke="#1a1a1a" stroke-width="0.8"/>
<line x1="196.45" y1="271" x2="196.45" y2="273.6" stroke="#1a1a1a" stroke-width="0.8"/>
<line x1="201.37" y1="271" x2="201.37" y2="273.6" stroke="#1a1a1a" stroke-width="0.8"/>
<line x1="206.29" y1="271" x2="206.29" y2="273.6" stroke="#1a1a1a" stroke-width="0.8"/>
<line x1="211.21" y1="271" x2="211.21" y2="273.6" stroke="#1a1a1a" stroke-width="0.8"/>
<line x1="216.13" y1="271" x2="216.13" y2="273.6" stroke="#1a1a1a" stroke-width="0.8"/>
<line x1="221.05" y1="271" x2="221.05" y2="273.6" stroke="#1a1a1a" stroke-width="0.8"/>
<line x1="225.97" y1="271" x2="225.97" y2="273.6" stroke="#1a1a1a" stroke-width="0.8"/>
<line x1="230.89" y1="271" x2="230.89" y2="273.6" stroke="#1a1a1a" stroke-width="0.8"/>
<line x1="235.81" y1="271" x2="235.81" y2="273.6" stroke="#1a1a1a" stroke-width="0.8"/>
<line x1="240.73" y1="271" x2="240.73" y2="273.6" stroke="#1a1a1a" stroke-width="0.8"/>
<line x1="245.65" y1="271" x2="245.65" y2="273.6" stroke="#1a1a1a" stroke-width="0.8"/>
<line x1="250.57" y1="271" x2="250.57" y2="273.6" stroke="#1a1a1a" stroke-width="0.8"/>
<line x1="255.49" y1="271" x2="255.49" y2="273.6" stroke="#1a1a1a" stroke-width="0.8"/>
<line x1="260.41" y1="271" x2="260.41" y2="273.6" stroke="#1a1a1a" stroke-width="0.8"/>
<line x1="265.33" y1="271" x2="265.33" y2="273.6" stroke="#1a1a1a" stroke-width="0.8"/>
<line x1="270.25" y1="271" x2="270.25" y2="273.6" stroke="#1a1a1a" stroke-width="0.8"/>
<line x1="275.17" y1="271" x2="275.17" y2="273.6" stroke="#1a1a1a" stroke-width="0.8"/>
<line x1="280.09" y1="271" x2="280.09" y2="273.6" stroke="#1a1a1a" stroke-width="0.8"/>
<line x1="285.01" y1="271" x2="285.01" y2="273.6" stroke="#1a1a1a" stroke-width="0.8"/>
<line x1="289.93" y1="271" x2="289.93" y2="273.6" stroke="#1a1a1a" stroke-width="0.8"/>
<line x1="294.85" y1="271" x2="294.85" y2="273.6" stroke="#1a1a1a" stroke-width="0.8"/>
<line x1="299.77" y1="271" x2="299.77" y2="273.6" stroke="#1a1a1a" stroke-width="0.8"/>
<line x1="304.69" y1="271" x2="304.69" y2="273.6" stroke="#1a1a1a" stroke-width="0.8"/>
<line x1="309.61" y1="271" x2="309.61" y2="273.6" stroke="#1a1a1a" stroke-width="0.8"/>
<line x1="314.53" y1="271" x2="314.53" y2="273.6" stroke="#1a1a1a" stroke-width="0.8"/>
<line x1="319.45" y1="271" x2="319.45" y2="273.6" stroke="#1a1a1a" stroke-width="0.8"/>
<line x1="324.37" y1="271" x2="324.37" y2="273.6" stroke="#1a1a1a" stroke-width="0.8"/>
<line x1="329.29" y1="271" x2="329.29" y2="273.6" stroke="#1a1a1a" stroke-width="0.8"/>
<line x1="334.21" y1="271" x2="334.21" y2="273.6" stroke="#1a1a1a" stroke-width="0.8"/>
<line x1="339.13" y1="271" x2="339.13" y2="273.6" stroke="#1a1a1a" stroke-width="0.8"/>
<line x1="344.05" y1="271" x2="344.05" y2="273.6" stroke="#1a1a1a" stroke-width="0.8"/>
<line x1="348.97" y1="271" x2="348.97" y2="273.6" stroke="#1a1a1a" stroke-width="0.8"/>
<line x1="353.89" y1="271" x2="353.89" y2="273.6" stroke="#1a1a1a" stroke-width="0.8"/>
<line x1="358.81" y1="271" x2="358.81" y2="273.6" stroke="#1a1a1a" stroke-width="0.8"/>
<line x1="363.73" y1="271" x2="363.73" y2="273.6" stroke="#1a1a1a" stroke-width="0.8"/>
<line x1="368.65" y1="271" x2="368.65" y2="273.6" stroke="#1a1a1a" stroke-width="0.8"/>
<line x1="373.57" y1="271" x2="373.57" y2="273.6" stroke="#1a1a1a" stroke-width="0.8"/>
<line x1="378.49" y1="271" x2="378.49" y2="273.6" stroke="#1a1a1a" stroke-width="0.8"/>
<line x1="383.41" y1="271" x2="383.41" y2="273.6" stroke="#1a1a1a" stroke-width="0.8"/>
<line x1="388.33" y1="271" x2="388.33" y2="273.6" stroke="#1a1a1a" stroke-width="0.8"/>
<line x1="393.25" y1="271" x2="393.25" y2="273.6" stroke="#1a1a1a" stroke-width="0.8"/>
<line x1="398.17" y1="271" x2="398.17" y2="273.6" stroke="#1a1a1a" stroke-width="0.8"/>
<line x1="403.09" y1="271" x2="403.09" y2="273.6" stroke="#1a1a1a" stroke-width="0.8"/>
<line x1="408.01" y1="271" x2="408.01" y2="273.6" stroke="#1a1a1a" stroke-width="0.8"/>
<line x1="412.93" y1="271" x2="412.93" y2="273.6" stroke="#1a1a1a" stroke-width="0.8"/>
<line x1="417.85" y1="271" x2="417.85" y2="273.6" stroke="#1a1a1a" stroke-width="0.8"/>
<line x1="422.77" y1="271" x2="422.77" y2="273.6" stroke="#1a1a1a" stroke-width="0.8"/>
<line x1="427.69" y1="271" x2="427.69" y2="273.6" stroke="#1a1a1a" stroke-width="0.8"/>
<line x1="432.61" y1="271" x2="432.61" y2="273.6" stroke="#1a1a1a" stroke-width="0.8"/>
<line x1="437.53" y1="271" x2="437.53" y2="273.6" stroke="#1a1a1a" stroke-width="0.8"/>
<line x1="442.45" y1="271" x2="442.45" y2="273.6" stroke="#1a1a1a" stroke-width="0.8"/>
<line x1="447.37" y1="271" x2="447.37" y2="273.6" stroke="#1a1a1a" stroke-width="0.8"/>
<line x1="452.29" y1="271" x2="452.29" y2="273.6" stroke="#1a1a1a" stroke-width="0.8"/>
<line x1="457.21" y1="271" x2="457.21" y2="273.6" stroke="#1a1a1a" stroke-width="0.8"/>
<line x1="462.13" y1="271" x2="462.13" y2="273.6" stroke="#1a1a1a" stroke-width="0.8"/>
<line x1="467.05" y1="271" x2="467.05" y2="273.6" stroke="#1a1a1a" stroke-width="0.8"/>
<line x1="471.97" y1="271" x2="471.97" y2="273.6" stroke="#1a1a1a" stroke-width="0.8"/>
<line x1="476.89" y1="271" x2="476.89" y2="273.6" stroke="#1a1a1a" stroke-width="0.8"/>
<line x1="481.81" y1="271" x2="481.81" y2="273.6" stroke="#1a1a1a" stroke-width="0.8"/>
<line x1="486.73" y1="271" x2="486.73" y2="273.6" stroke="#1a1a1a" stroke-width="0.8"/>
<line x1="491.65" y1="271" x2="491.65" y2="273.6" stroke="#1a1a1a" stroke-width="0.8"/>
<line x1="496.57" y1="271" x2="496.57" y2="273.6" stroke="#1a1a1a" stroke-width="0.8"/>
<line x1="501.49" y1="271" x2="501.49" y2="273.6" stroke="#1a1a1a" stroke-width="0.8"/>
<line x1="506.41" y1="271" x2="506.41" y2="273.6" stroke="#1a1a1a" stroke-width="0.8"/>
<line x1="511.33" y1="271" x2="511.33" y2="273.6" stroke="#1a1a1a" stroke-width="0.8"/>
<line x1="136.9" y1="194.6" x2="136.9" y2="271" stroke="#777" stroke-width="2"/>
<line x1="215.5" y1="194.6" x2="215.5" y2="271" stroke="#444" stroke-width="1.4"/>
<line x1="289" y1="194.6" x2="289" y2="271" stroke="#737373" stroke-width="2"/>
<line x1="353.1" y1="194.6" x2="353.1" y2="271" stroke="#737373" stroke-width="2"/>
<line x1="436.1" y1="194.6" x2="436.1" y2="271" stroke="#5a5a5a" stroke-width="1.7"/>
<path d="M70.6,240.4 C70.98,239.02 71.4,235.08 72.9,232.1 C74.4,229.12 77.37,225.55 79.6,222.5 C81.83,219.45 84.22,216.2 86.3,213.8 C88.38,211.4 89.68,209.53 92.1,208.1 C94.52,206.67 97.43,205.92 100.8,205.2 C104.17,204.48 107.98,204.03 112.3,203.8 C116.62,203.57 124.3,203.8 126.7,203.8" fill="none" stroke="#c8102e" stroke-width="1.4" stroke-linecap="round" stroke-linejoin="round"/>
<path d="M206,201.9 C203.92,202.03 197.52,202.38 193.5,202.7 C189.48,203.02 185.75,203.22 181.9,203.8 C178.05,204.38 173.6,205.17 170.4,206.2 C167.2,207.23 165.27,208.25 162.7,210 C160.13,211.75 157.4,214.13 155,216.7 C152.6,219.27 150.07,222.83 148.3,225.4 C146.53,227.97 145.37,229.53 144.4,232.1 C143.43,234.67 143.13,238.23 142.5,240.8 C141.87,243.37 140.92,246.38 140.6,247.5" fill="none" stroke="#c8102e" stroke-width="1.4" stroke-linecap="round" stroke-linejoin="round"/>
<polyline points="139,244.6 140.6,247.5 144.4,245.4" fill="none" stroke="#c8102e" stroke-width="1.4" stroke-linejoin="round" stroke-linecap="round"/>
<path d="M149.2,238.8 C150.17,237.37 152.92,233.23 155,230.2 C157.08,227.17 159.45,223.65 161.7,220.6 C163.95,217.55 166.08,214.3 168.5,211.9 C170.92,209.5 173.32,207.57 176.2,206.2 C179.08,204.83 182.28,204.28 185.8,203.7 C189.32,203.12 195.38,202.87 197.3,202.7" fill="none" stroke="#1d5a96" stroke-width="1.4" stroke-linecap="round" stroke-linejoin="round"/>
<path d="M215.6,223.5 C216.58,222.37 219.23,218.95 221.5,216.7 C223.77,214.45 226.32,211.75 229.2,210 C232.08,208.25 235.58,207.1 238.8,206.2 C242.02,205.3 245.3,204.93 248.5,204.6 C251.7,204.27 253.68,204.27 258,204.2 C262.32,204.13 271.67,204.2 274.4,204.2" fill="none" stroke="#c8102e" stroke-width="1.4" stroke-linecap="round" stroke-linejoin="round"/>
<path d="M223.1,238.6 C223.83,237.47 226.08,234 227.5,231.8 C228.92,229.6 229.72,227.92 231.6,225.4 C233.48,222.88 236.15,219.35 238.8,216.7 C241.45,214.05 244.6,211.35 247.5,209.5 C250.4,207.65 253.45,206.52 256.2,205.6 C258.95,204.68 260.97,204.38 264,204 C267.03,203.62 272.67,203.42 274.4,203.3" fill="none" stroke="#1d5a96" stroke-width="1.4" stroke-linecap="round" stroke-linejoin="round"/>
<path d="M289.5,219.6 C290.17,218.8 291.88,216.47 293.5,214.8 C295.12,213.13 296.97,211.03 299.2,209.6 C301.43,208.17 303.68,207.03 306.9,206.2 C310.12,205.37 314.65,204.93 318.5,204.6 C322.35,204.27 326,204.27 330,204.2 C334,204.13 340.42,204.2 342.5,204.2" fill="none" stroke="#c8102e" stroke-width="1.4" stroke-linecap="round" stroke-linejoin="round"/>
<path d="M298.5,237.5 C299.08,236.42 300.88,233.02 302,231 C303.12,228.98 303.47,227.87 305.2,225.4 C306.93,222.93 309.77,218.85 312.4,216.2 C315.03,213.55 317.87,211.23 321,209.5 C324.13,207.77 327.62,206.65 331.2,205.8 C334.78,204.95 340.62,204.63 342.5,204.4" fill="none" stroke="#1d5a96" stroke-width="1.4" stroke-linecap="round" stroke-linejoin="round"/>
<path d="M360.6,242.3 C361.08,241.08 362.22,237.33 363.5,235 C364.78,232.67 366.38,230.87 368.3,228.3 C370.22,225.73 372.6,222.33 375,219.6 C377.4,216.87 380.13,213.88 382.7,211.9 C385.27,209.92 387.52,208.72 390.4,207.7 C393.28,206.68 396.48,206.25 400,205.8 C403.52,205.35 407.08,205.17 411.5,205 C415.92,204.83 424,204.83 426.5,204.8" fill="none" stroke="#c8102e" stroke-width="1.4" stroke-linecap="round" stroke-linejoin="round"/>
<polyline points="367.3,240.8 370.2,238.8" fill="none" stroke="#c8102e" stroke-width="1.4" stroke-linejoin="round" stroke-linecap="round"/>
<path d="M385.6,236.5 C385.92,236.32 386.55,236.62 387.5,235.4 C388.45,234.18 389.53,232.15 391.3,229.2 C393.07,226.25 395.68,220.9 398.1,217.7 C400.52,214.5 402.92,211.87 405.8,210 C408.68,208.13 411.95,207.2 415.4,206.5 C418.85,205.8 424.65,205.92 426.5,205.8" fill="none" stroke="#1d5a96" stroke-width="1.4" stroke-linecap="round" stroke-linejoin="round"/>
<polyline points="438,238.8 438.6,238.6" fill="none" stroke="#c8102e" stroke-width="1.4" stroke-linejoin="round" stroke-linecap="round"/>
<path d="M443.5,234 C443.92,233.78 445.12,233.65 446,232.7 C446.88,231.75 447.52,230.32 448.8,228.3 C450.08,226.28 451.77,223.07 453.7,220.6 C455.63,218.13 457.68,215.58 460.4,213.5 C463.12,211.42 466.15,209.48 470,208.1 C473.85,206.72 478.7,205.85 483.5,205.2 C488.3,204.55 496.25,204.37 498.8,204.2" fill="none" stroke="#c8102e" stroke-width="1.4" stroke-linecap="round" stroke-linejoin="round"/>
<path d="M472.9,233.1 C473.7,232.13 475.93,229.55 477.7,227.3 C479.47,225.05 481.58,221.9 483.5,219.6 C485.42,217.3 487.28,215.03 489.2,213.5 C491.12,211.97 493.23,211.15 495,210.4 C496.77,209.65 499,209.23 499.8,209" fill="none" stroke="#1d5a96" stroke-width="1.4" stroke-linecap="round" stroke-linejoin="round"/>
<line x1="48.6" y1="299.6" x2="48.6" y2="396.3" stroke="#1a1a1a" stroke-width="1.2"/>
<line x1="45.4" y1="395.9" x2="48.6" y2="395.9" stroke="#1a1a1a" stroke-width="1"/>
<line x1="45.4" y1="380.56" x2="48.6" y2="380.56" stroke="#1a1a1a" stroke-width="1"/>
<line x1="45.4" y1="365.22" x2="48.6" y2="365.22" stroke="#1a1a1a" stroke-width="1"/>
<line x1="45.4" y1="349.88" x2="48.6" y2="349.88" stroke="#1a1a1a" stroke-width="1"/>
<line x1="45.4" y1="334.54" x2="48.6" y2="334.54" stroke="#1a1a1a" stroke-width="1"/>
<line x1="45.4" y1="319.2" x2="48.6" y2="319.2" stroke="#1a1a1a" stroke-width="1"/>
<line x1="45.4" y1="303.86" x2="48.6" y2="303.86" stroke="#1a1a1a" stroke-width="1"/>
<line x1="48" y1="395.9" x2="276.6" y2="395.9" stroke="#1a1a1a" stroke-width="1.3"/>
<line x1="48.6" y1="395.9" x2="48.6" y2="398.2" stroke="#1a1a1a" stroke-width="1"/>
<line x1="104.5" y1="395.9" x2="104.5" y2="398.2" stroke="#1a1a1a" stroke-width="1"/>
<line x1="160.4" y1="395.9" x2="160.4" y2="398.2" stroke="#1a1a1a" stroke-width="1"/>
<line x1="216.3" y1="395.9" x2="216.3" y2="398.2" stroke="#1a1a1a" stroke-width="1"/>
<line x1="272.2" y1="395.9" x2="272.2" y2="398.2" stroke="#1a1a1a" stroke-width="1"/>
<line x1="48.6" y1="315.2" x2="271.5" y2="389.6" stroke="#1d5a96" stroke-width="1.6" stroke-dasharray="1.6 1.35"/>
<circle cx="48.75" cy="321" r="2.0" fill="#c8102e"/>
<circle cx="104.2" cy="329.4" r="2.0" fill="#c8102e"/>
<circle cx="160.2" cy="348.5" r="2.0" fill="#c8102e"/>
<circle cx="216.2" cy="370.6" r="2.0" fill="#c8102e"/>
<circle cx="272.2" cy="395.4" r="2.0" fill="#c8102e"/>
<line x1="48.6" y1="433.2" x2="48.6" y2="512.7" stroke="#1a1a1a" stroke-width="1.2"/>
<line x1="45.6" y1="436.7" x2="48.6" y2="436.7" stroke="#1a1a1a" stroke-width="0.9"/>
<line x1="45.6" y1="447.45" x2="48.6" y2="447.45" stroke="#1a1a1a" stroke-width="0.9"/>
<line x1="45.6" y1="458.2" x2="48.6" y2="458.2" stroke="#1a1a1a" stroke-width="0.9"/>
<line x1="45.6" y1="468.95" x2="48.6" y2="468.95" stroke="#1a1a1a" stroke-width="0.9"/>
<line x1="45.6" y1="479.7" x2="48.6" y2="479.7" stroke="#1a1a1a" stroke-width="0.9"/>
<line x1="45.6" y1="490.45" x2="48.6" y2="490.45" stroke="#1a1a1a" stroke-width="0.9"/>
<line x1="45.6" y1="501.2" x2="48.6" y2="501.2" stroke="#1a1a1a" stroke-width="0.9"/>
<line x1="45.6" y1="511.95" x2="48.6" y2="511.95" stroke="#1a1a1a" stroke-width="0.9"/>
<line x1="46.2" y1="512.2" x2="512.5" y2="512.2" stroke="#1a1a1a" stroke-width="1.2"/>
<line x1="48.65" y1="512.2" x2="48.65" y2="515.2" stroke="#1a1a1a" stroke-width="0.8"/>
<line x1="55.03" y1="512.2" x2="55.03" y2="515.2" stroke="#1a1a1a" stroke-width="0.8"/>
<line x1="61.41" y1="512.2" x2="61.41" y2="515.2" stroke="#1a1a1a" stroke-width="0.8"/>
<line x1="67.79" y1="512.2" x2="67.79" y2="515.2" stroke="#1a1a1a" stroke-width="0.8"/>
<line x1="74.17" y1="512.2" x2="74.17" y2="515.2" stroke="#1a1a1a" stroke-width="0.8"/>
<line x1="80.55" y1="512.2" x2="80.55" y2="515.2" stroke="#1a1a1a" stroke-width="0.8"/>
<line x1="86.93" y1="512.2" x2="86.93" y2="515.2" stroke="#1a1a1a" stroke-width="0.8"/>
<line x1="93.31" y1="512.2" x2="93.31" y2="515.2" stroke="#1a1a1a" stroke-width="0.8"/>
<line x1="99.69" y1="512.2" x2="99.69" y2="515.2" stroke="#1a1a1a" stroke-width="0.8"/>
<line x1="106.07" y1="512.2" x2="106.07" y2="515.2" stroke="#1a1a1a" stroke-width="0.8"/>
<line x1="112.45" y1="512.2" x2="112.45" y2="515.2" stroke="#1a1a1a" stroke-width="0.8"/>
<line x1="118.83" y1="512.2" x2="118.83" y2="515.2" stroke="#1a1a1a" stroke-width="0.8"/>
<line x1="125.21" y1="512.2" x2="125.21" y2="515.2" stroke="#1a1a1a" stroke-width="0.8"/>
<line x1="131.59" y1="512.2" x2="131.59" y2="515.2" stroke="#1a1a1a" stroke-width="0.8"/>
<line x1="137.97" y1="512.2" x2="137.97" y2="515.2" stroke="#1a1a1a" stroke-width="0.8"/>
<line x1="144.35" y1="512.2" x2="144.35" y2="515.2" stroke="#1a1a1a" stroke-width="0.8"/>
<line x1="150.73" y1="512.2" x2="150.73" y2="515.2" stroke="#1a1a1a" stroke-width="0.8"/>
<line x1="157.11" y1="512.2" x2="157.11" y2="515.2" stroke="#1a1a1a" stroke-width="0.8"/>
<line x1="163.49" y1="512.2" x2="163.49" y2="515.2" stroke="#1a1a1a" stroke-width="0.8"/>
<line x1="169.87" y1="512.2" x2="169.87" y2="515.2" stroke="#1a1a1a" stroke-width="0.8"/>
<line x1="176.25" y1="512.2" x2="176.25" y2="515.2" stroke="#1a1a1a" stroke-width="0.8"/>
<line x1="182.63" y1="512.2" x2="182.63" y2="515.2" stroke="#1a1a1a" stroke-width="0.8"/>
<line x1="189.01" y1="512.2" x2="189.01" y2="515.2" stroke="#1a1a1a" stroke-width="0.8"/>
<line x1="195.39" y1="512.2" x2="195.39" y2="515.2" stroke="#1a1a1a" stroke-width="0.8"/>
<line x1="201.77" y1="512.2" x2="201.77" y2="515.2" stroke="#1a1a1a" stroke-width="0.8"/>
<line x1="208.15" y1="512.2" x2="208.15" y2="515.2" stroke="#1a1a1a" stroke-width="0.8"/>
<line x1="214.53" y1="512.2" x2="214.53" y2="515.2" stroke="#1a1a1a" stroke-width="0.8"/>
<line x1="220.91" y1="512.2" x2="220.91" y2="515.2" stroke="#1a1a1a" stroke-width="0.8"/>
<line x1="227.29" y1="512.2" x2="227.29" y2="515.2" stroke="#1a1a1a" stroke-width="0.8"/>
<line x1="233.67" y1="512.2" x2="233.67" y2="515.2" stroke="#1a1a1a" stroke-width="0.8"/>
<line x1="240.05" y1="512.2" x2="240.05" y2="515.2" stroke="#1a1a1a" stroke-width="0.8"/>
<line x1="246.43" y1="512.2" x2="246.43" y2="515.2" stroke="#1a1a1a" stroke-width="0.8"/>
<line x1="252.81" y1="512.2" x2="252.81" y2="515.2" stroke="#1a1a1a" stroke-width="0.8"/>
<line x1="259.19" y1="512.2" x2="259.19" y2="515.2" stroke="#1a1a1a" stroke-width="0.8"/>
<line x1="265.57" y1="512.2" x2="265.57" y2="515.2" stroke="#1a1a1a" stroke-width="0.8"/>
<line x1="271.95" y1="512.2" x2="271.95" y2="515.2" stroke="#1a1a1a" stroke-width="0.8"/>
<line x1="278.33" y1="512.2" x2="278.33" y2="515.2" stroke="#1a1a1a" stroke-width="0.8"/>
<line x1="284.71" y1="512.2" x2="284.71" y2="515.2" stroke="#1a1a1a" stroke-width="0.8"/>
<line x1="291.09" y1="512.2" x2="291.09" y2="515.2" stroke="#1a1a1a" stroke-width="0.8"/>
<line x1="297.47" y1="512.2" x2="297.47" y2="515.2" stroke="#1a1a1a" stroke-width="0.8"/>
<line x1="303.85" y1="512.2" x2="303.85" y2="515.2" stroke="#1a1a1a" stroke-width="0.8"/>
<line x1="310.23" y1="512.2" x2="310.23" y2="515.2" stroke="#1a1a1a" stroke-width="0.8"/>
<line x1="316.61" y1="512.2" x2="316.61" y2="515.2" stroke="#1a1a1a" stroke-width="0.8"/>
<line x1="322.99" y1="512.2" x2="322.99" y2="515.2" stroke="#1a1a1a" stroke-width="0.8"/>
<line x1="329.37" y1="512.2" x2="329.37" y2="515.2" stroke="#1a1a1a" stroke-width="0.8"/>
<line x1="335.75" y1="512.2" x2="335.75" y2="515.2" stroke="#1a1a1a" stroke-width="0.8"/>
<line x1="342.13" y1="512.2" x2="342.13" y2="515.2" stroke="#1a1a1a" stroke-width="0.8"/>
<line x1="348.51" y1="512.2" x2="348.51" y2="515.2" stroke="#1a1a1a" stroke-width="0.8"/>
<line x1="354.89" y1="512.2" x2="354.89" y2="515.2" stroke="#1a1a1a" stroke-width="0.8"/>
<line x1="361.27" y1="512.2" x2="361.27" y2="515.2" stroke="#1a1a1a" stroke-width="0.8"/>
<line x1="367.65" y1="512.2" x2="367.65" y2="515.2" stroke="#1a1a1a" stroke-width="0.8"/>
<line x1="374.03" y1="512.2" x2="374.03" y2="515.2" stroke="#1a1a1a" stroke-width="0.8"/>
<line x1="380.41" y1="512.2" x2="380.41" y2="515.2" stroke="#1a1a1a" stroke-width="0.8"/>
<line x1="386.79" y1="512.2" x2="386.79" y2="515.2" stroke="#1a1a1a" stroke-width="0.8"/>
<line x1="393.17" y1="512.2" x2="393.17" y2="515.2" stroke="#1a1a1a" stroke-width="0.8"/>
<line x1="399.55" y1="512.2" x2="399.55" y2="515.2" stroke="#1a1a1a" stroke-width="0.8"/>
<line x1="405.93" y1="512.2" x2="405.93" y2="515.2" stroke="#1a1a1a" stroke-width="0.8"/>
<line x1="412.31" y1="512.2" x2="412.31" y2="515.2" stroke="#1a1a1a" stroke-width="0.8"/>
<line x1="418.69" y1="512.2" x2="418.69" y2="515.2" stroke="#1a1a1a" stroke-width="0.8"/>
<line x1="425.07" y1="512.2" x2="425.07" y2="515.2" stroke="#1a1a1a" stroke-width="0.8"/>
<line x1="431.45" y1="512.2" x2="431.45" y2="515.2" stroke="#1a1a1a" stroke-width="0.8"/>
<line x1="437.83" y1="512.2" x2="437.83" y2="515.2" stroke="#1a1a1a" stroke-width="0.8"/>
<line x1="444.21" y1="512.2" x2="444.21" y2="515.2" stroke="#1a1a1a" stroke-width="0.8"/>
<line x1="450.59" y1="512.2" x2="450.59" y2="515.2" stroke="#1a1a1a" stroke-width="0.8"/>
<line x1="456.97" y1="512.2" x2="456.97" y2="515.2" stroke="#1a1a1a" stroke-width="0.8"/>
<line x1="463.35" y1="512.2" x2="463.35" y2="515.2" stroke="#1a1a1a" stroke-width="0.8"/>
<line x1="469.73" y1="512.2" x2="469.73" y2="515.2" stroke="#1a1a1a" stroke-width="0.8"/>
<line x1="476.11" y1="512.2" x2="476.11" y2="515.2" stroke="#1a1a1a" stroke-width="0.8"/>
<line x1="482.49" y1="512.2" x2="482.49" y2="515.2" stroke="#1a1a1a" stroke-width="0.8"/>
<line x1="488.87" y1="512.2" x2="488.87" y2="515.2" stroke="#1a1a1a" stroke-width="0.8"/>
<line x1="495.25" y1="512.2" x2="495.25" y2="515.2" stroke="#1a1a1a" stroke-width="0.8"/>
<line x1="501.63" y1="512.2" x2="501.63" y2="515.2" stroke="#1a1a1a" stroke-width="0.8"/>
<line x1="508.01" y1="512.2" x2="508.01" y2="515.2" stroke="#1a1a1a" stroke-width="0.8"/>
<line x1="125.5" y1="433.2" x2="125.5" y2="512.2" stroke="#222" stroke-width="1.3"/>
<line x1="208.5" y1="433.2" x2="208.5" y2="512.2" stroke="#222" stroke-width="1.3"/>
<line x1="285.6" y1="433.2" x2="285.6" y2="512.2" stroke="#222" stroke-width="1.3"/>
<line x1="387.3" y1="433.2" x2="387.3" y2="512.2" stroke="#222" stroke-width="1.3"/>
<path d="M55.4,478.8 C56.1,477.62 57.93,474.07 59.6,471.7 C61.27,469.33 63.15,467.17 65.4,464.6 C67.65,462.03 70.53,458.63 73.1,456.3 C75.67,453.97 78.05,452.28 80.8,450.6 C83.55,448.92 86.53,447.35 89.6,446.2 C92.67,445.05 96,444.28 99.2,443.7 C102.4,443.12 105.43,442.93 108.8,442.7 C112.17,442.47 117.63,442.37 119.4,442.3" fill="none" stroke="#c8102e" stroke-width="1.4" stroke-linecap="round" stroke-linejoin="round"/>
<path d="M71.5,474.2 C72.4,473.05 74.72,469.95 76.9,467.3 C79.08,464.65 82.03,460.93 84.6,458.3 C87.17,455.67 89.73,453.4 92.3,451.5 C94.87,449.6 97.38,448.05 100,446.9 C102.62,445.75 104.77,445.13 108,444.6 C111.23,444.07 117.5,443.85 119.4,443.7" fill="none" stroke="#1d5a96" stroke-width="1.4" stroke-linecap="round" stroke-linejoin="round"/>
<path d="M134.8,472.5 C135.92,470.83 139.03,465.6 141.5,462.5 C143.97,459.4 146.9,456.28 149.6,453.9 C152.3,451.52 154.55,449.77 157.7,448.2 C160.85,446.63 164.47,445.48 168.5,444.5 C172.53,443.52 177.42,442.78 181.9,442.3 C186.38,441.82 193.15,441.72 195.4,441.6" fill="none" stroke="#c8102e" stroke-width="1.4" stroke-linecap="round" stroke-linejoin="round"/>
<path d="M145.6,478.7 C147.17,477.22 151.87,472.95 155,469.8 C158.13,466.65 161.27,462.82 164.4,459.8 C167.53,456.78 170.43,453.8 173.8,451.7 C177.17,449.6 181,448.32 184.6,447.2 C188.2,446.08 193.6,445.37 195.4,445" fill="none" stroke="#1d5a96" stroke-width="1.4" stroke-linecap="round" stroke-linejoin="round"/>
<path d="M214.8,480.8 C215.6,479.2 217.52,474.42 219.6,471.2 C221.68,467.98 224.42,464.55 227.3,461.5 C230.18,458.45 233.7,455.3 236.9,452.9 C240.1,450.5 243.32,448.48 246.5,447.1 C249.68,445.72 252.75,445.17 256,444.6 C259.25,444.03 264.33,443.85 266,443.7" fill="none" stroke="#c8102e" stroke-width="1.4" stroke-linecap="round" stroke-linejoin="round"/>
<path d="M221.5,479.2 C222.47,477.87 225.05,474.15 227.3,471.2 C229.55,468.25 232.43,464.55 235,461.5 C237.57,458.45 239.82,455.2 242.7,452.9 C245.58,450.6 249.42,448.85 252.3,447.7 C255.18,446.55 257.72,446.25 260,446 C262.28,445.75 265,446.17 266,446.2" fill="none" stroke="#1d5a96" stroke-width="1.4" stroke-linecap="round" stroke-linejoin="round"/>
<polyline points="285.6,480.2 288.5,476.3 292.3,482.1 297.7,488.5" fill="none" stroke="#1d5a96" stroke-width="1.4" stroke-linejoin="round" stroke-linecap="round"/>
<polyline points="285.6,480.2 288.5,494.2 292.3,482.1" fill="none" stroke="#c8102e" stroke-width="1.4" stroke-linejoin="round" stroke-linecap="round"/>
<path d="M313.7,484 C314.55,482.25 316.67,477.18 318.8,473.5 C320.93,469.82 323.93,465.12 326.5,461.9 C329.07,458.68 331.43,456.5 334.2,454.2 C336.97,451.9 340.02,449.77 343.1,448.1 C346.18,446.43 348.53,445.1 352.7,444.2 C356.87,443.3 365.53,442.95 368.1,442.7" fill="none" stroke="#c8102e" stroke-width="1.4" stroke-linecap="round" stroke-linejoin="round"/>
<path d="M330,485.6 C330.58,484.15 331.97,480.12 333.5,476.9 C335.03,473.68 336.97,469.67 339.2,466.3 C341.43,462.93 344.33,459.42 346.9,456.7 C349.47,453.98 352.25,451.57 354.6,450 C356.95,448.43 358.75,448 361,447.3 C363.25,446.6 366.92,446.05 368.1,445.8" fill="none" stroke="#1d5a96" stroke-width="1.4" stroke-linecap="round" stroke-linejoin="round"/>
<polyline points="390.4,491.5 393.5,480.4 397.3,475.5 400.4,481.9 404.2,479.6 407.3,479.2 409.9,483.2 412.7,477.6 416.1,492.7 419.2,478.8 422.7,484.7" fill="none" stroke="#1d5a96" stroke-width="1.4" stroke-linejoin="round" stroke-linecap="round"/>
<polyline points="397,490.4 399.6,479.6 402.7,479.2 406.5,476.5 409.6,475 413.5,475.5 416.5,473.9 419.6,475.5 422.7,474.5 426.5,476.5 431.2,475.8 435.8,476.5 441.2,477.6 444.2,482.7 446.5,481.2 449.6,482.7 453.9,480.7 457.6,491.5 460.7,482.2" fill="none" stroke="#c8102e" stroke-width="1.4" stroke-linejoin="round" stroke-linecap="round"/>
<path d="M444.8,476.7 C446.12,474.58 449.58,467.68 452.7,464 C455.82,460.32 459.47,457.28 463.5,454.6 C467.53,451.92 471.52,449.6 476.9,447.9 C482.28,446.2 492.65,444.98 495.8,444.4" fill="none" stroke="#1d5a96" stroke-width="1.4" stroke-linecap="round" stroke-linejoin="round"/>
<line x1="48.75" y1="535.5" x2="48.75" y2="643.8" stroke="#1a1a1a" stroke-width="1.2"/>
<line x1="45" y1="641.5" x2="48.75" y2="641.5" stroke="#1a1a1a" stroke-width="0.9"/>
<line x1="45" y1="615.81" x2="48.75" y2="615.81" stroke="#1a1a1a" stroke-width="0.9"/>
<line x1="45" y1="590.12" x2="48.75" y2="590.12" stroke="#1a1a1a" stroke-width="0.9"/>
<line x1="45" y1="564.44" x2="48.75" y2="564.44" stroke="#1a1a1a" stroke-width="0.9"/>
<line x1="45" y1="538.75" x2="48.75" y2="538.75" stroke="#1a1a1a" stroke-width="0.9"/>
<line x1="48.2" y1="641.3" x2="234.3" y2="641.3" stroke="#1a1a1a" stroke-width="1.3"/>
<line x1="48.6" y1="641.3" x2="48.6" y2="644" stroke="#1a1a1a" stroke-width="1"/>
<line x1="94.2" y1="641.3" x2="94.2" y2="644" stroke="#1a1a1a" stroke-width="1"/>
<line x1="139.8" y1="641.3" x2="139.8" y2="644" stroke="#1a1a1a" stroke-width="1"/>
<line x1="185.4" y1="641.3" x2="185.4" y2="644" stroke="#1a1a1a" stroke-width="1"/>
<line x1="231" y1="641.3" x2="231" y2="644" stroke="#1a1a1a" stroke-width="1"/>
<line x1="39.6" y1="596.4" x2="241.7" y2="596.4" stroke="#1d5a96" stroke-width="1.4"/>
<line x1="245" y1="594.6" x2="245" y2="547.4" stroke="#222" stroke-width="1.35"/>
<path d="M245,545 L243,549 L247,549 Z" fill="#222"/>
<line x1="245" y1="597.4" x2="245" y2="636" stroke="#222" stroke-width="1.35"/>
<path d="M245,638.4 L243,634.4 L247,634.4 Z" fill="#222"/>
<line x1="62.5" y1="563" x2="62.5" y2="573.3" stroke="#222" stroke-width="0.9"/>
<line x1="60.5" y1="563" x2="64.5" y2="563" stroke="#222" stroke-width="0.9"/>
<line x1="60.5" y1="573.3" x2="64.5" y2="573.3" stroke="#222" stroke-width="0.9"/>
<circle cx="62.5" cy="568.2" r="1.9" fill="#c8102e"/>
<line x1="108" y1="612.6" x2="108" y2="622.4" stroke="#222" stroke-width="0.9"/>
<line x1="106" y1="612.6" x2="110" y2="612.6" stroke="#222" stroke-width="0.9"/>
<line x1="106" y1="622.4" x2="110" y2="622.4" stroke="#222" stroke-width="0.9"/>
<circle cx="108" cy="617.5" r="1.9" fill="#c8102e"/>
<line x1="153.1" y1="619.8" x2="153.1" y2="629.6" stroke="#222" stroke-width="0.9"/>
<line x1="151.1" y1="619.8" x2="155.1" y2="619.8" stroke="#222" stroke-width="0.9"/>
<line x1="151.1" y1="629.6" x2="155.1" y2="629.6" stroke="#222" stroke-width="0.9"/>
<circle cx="153.1" cy="624.7" r="1.9" fill="#c8102e"/>
<line x1="184.8" y1="611.6" x2="184.8" y2="621.4" stroke="#222" stroke-width="0.9"/>
<line x1="182.8" y1="611.6" x2="186.8" y2="611.6" stroke="#222" stroke-width="0.9"/>
<line x1="182.8" y1="621.4" x2="186.8" y2="621.4" stroke="#222" stroke-width="0.9"/>
<circle cx="184.8" cy="616.5" r="1.9" fill="#c8102e"/>
<line x1="198.5" y1="611.6" x2="198.5" y2="621.4" stroke="#222" stroke-width="0.9"/>
<line x1="196.5" y1="611.6" x2="200.5" y2="611.6" stroke="#222" stroke-width="0.9"/>
<line x1="196.5" y1="621.4" x2="200.5" y2="621.4" stroke="#222" stroke-width="0.9"/>
<circle cx="198.5" cy="616.5" r="1.9" fill="#c8102e"/>
</svg>
</body></html>
